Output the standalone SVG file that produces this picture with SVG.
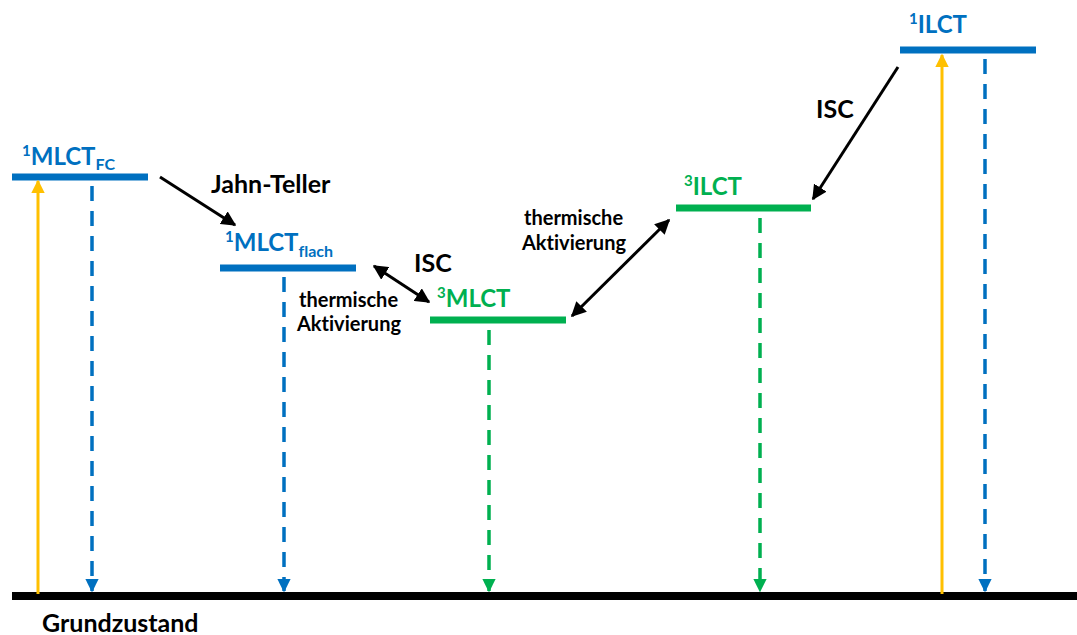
<svg xmlns="http://www.w3.org/2000/svg" width="1077" height="635" viewBox="0 0 1077 635">
<style>
text{font-family:Lato,"Open Sans","Liberation Sans",sans-serif;font-weight:bold;font-variant-ligatures:none}
.lbl{font-size:24px}
.blue{fill:#0070C0}
.green{fill:#00B050}
.blk{fill:#000;font-size:25px}
.sm{fill:#000;font-size:20px}
.bar{stroke-width:7}
.dash{stroke-width:3.5;stroke-dasharray:15 10;fill:none}
.exc{stroke:#FFC000;stroke-width:3;fill:none}
.conn{stroke:#000;stroke-width:3;fill:none}
</style>
<defs>
<marker id="ab" viewBox="0 0 10 10" refX="9" refY="5" markerWidth="3.8" markerHeight="3.8" orient="auto" markerUnits="strokeWidth"><path d="M0,0 L10,5 L0,10 z" fill="#0070C0"/></marker>
<marker id="ag" viewBox="0 0 10 10" refX="9" refY="5" markerWidth="3.8" markerHeight="3.8" orient="auto" markerUnits="strokeWidth"><path d="M0,0 L10,5 L0,10 z" fill="#00B050"/></marker>
<marker id="ay" viewBox="0 0 10 10" refX="9" refY="5" markerWidth="4.5" markerHeight="4.5" orient="auto" markerUnits="strokeWidth"><path d="M0,0 L10,5 L0,10 z" fill="#FFC000"/></marker>
<marker id="ak" viewBox="0 0 10 10" refX="9" refY="5" markerWidth="5" markerHeight="5" orient="auto-start-reverse" markerUnits="strokeWidth"><path d="M0,0 L10,5 L0,10 z" fill="#000"/></marker>
</defs>
<rect width="1077" height="635" fill="#fff"/>
<g id="ground">
<rect x="12" y="592" width="1065" height="8" fill="#000"/>
<text class="blk" x="42" y="632">Grundzustand</text>
</g>
<g id="mlct-fc">
<line class="bar" x1="12" y1="177" x2="148" y2="177" stroke="#0070C0"/>
<text class="lbl blue" x="22" y="165"><tspan font-size="15" dy="-9">1</tspan><tspan dy="9">MLCT</tspan><tspan font-size="16" dy="5">FC</tspan></text>
</g>
<g id="mlct-flach">
<line class="bar" x1="220" y1="268" x2="356" y2="268" stroke="#0070C0"/>
<text class="lbl blue" x="225" y="251"><tspan font-size="15" dy="-9">1</tspan><tspan dy="9">MLCT</tspan><tspan font-size="16" dy="6">flach</tspan></text>
</g>
<g id="mlct3">
<line class="bar" x1="430" y1="320" x2="566" y2="320" stroke="#00B050"/>
<text class="lbl green" x="437" y="307"><tspan font-size="15" dy="-9">3</tspan><tspan dy="9">MLCT</tspan></text>
</g>
<g id="ilct3">
<line class="bar" x1="676" y1="208" x2="811" y2="208" stroke="#00B050"/>
<text class="lbl green" x="684" y="195"><tspan font-size="15" dy="-9">3</tspan><tspan dy="9">ILCT</tspan></text>
</g>
<g id="ilct1">
<line class="bar" x1="900" y1="50" x2="1036" y2="50" stroke="#0070C0"/>
<text class="lbl blue" x="909" y="33"><tspan font-size="15" dy="-9">1</tspan><tspan dy="9">ILCT</tspan></text>
</g>
<g id="connectors">
<line class="exc" x1="38" y1="594" x2="38" y2="181" marker-end="url(#ay)"/>
<line class="exc" x1="942" y1="594" x2="942" y2="55" marker-end="url(#ay)"/>
<line class="dash" x1="92" y1="186" x2="92" y2="591" stroke="#0070C0" marker-end="url(#ab)"/>
<line class="dash" x1="284" y1="277" x2="284" y2="591" stroke="#0070C0" marker-end="url(#ab)"/>
<line class="dash" x1="985" y1="59" x2="985" y2="591" stroke="#0070C0" marker-end="url(#ab)"/>
<line class="dash" x1="489" y1="330" x2="489" y2="591" stroke="#00B050" marker-end="url(#ag)"/>
<line class="dash" x1="760" y1="218" x2="760" y2="591" stroke="#00B050" marker-end="url(#ag)"/>
<line class="conn" x1="160" y1="177" x2="235" y2="225" marker-end="url(#ak)"/>
<line class="conn" x1="374" y1="266" x2="429" y2="302" marker-start="url(#ak)" marker-end="url(#ak)"/>
<line class="conn" x1="572" y1="316" x2="669" y2="220" marker-start="url(#ak)" marker-end="url(#ak)"/>
<line class="conn" x1="898" y1="67" x2="813" y2="199" marker-end="url(#ak)"/>
<text class="blk" x="211" y="193">Jahn-Teller</text>
<text class="blk" x="414" y="272">ISC</text>
<text class="blk" x="816" y="118">ISC</text>
<text class="sm" x="299" y="307">thermische</text>
<text class="sm" x="297" y="331">Aktivierung</text>
<text class="sm" x="524" y="225">thermische</text>
<text class="sm" x="522" y="250">Aktivierung</text>
</g>
</svg>
